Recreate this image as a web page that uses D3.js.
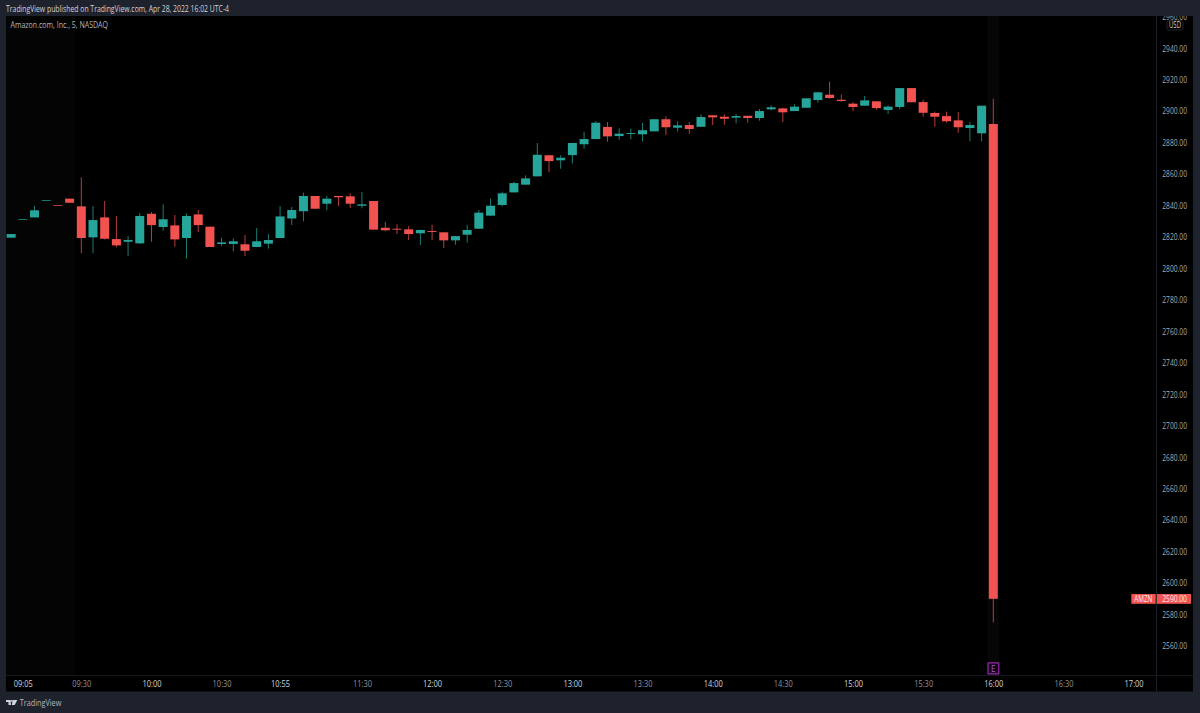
<!DOCTYPE html>
<html><head><meta charset="utf-8">
<script src="https://cdn.jsdelivr.net/npm/d3@7"></script>
<style>html,body{margin:0;padding:0;background:#1e222d;overflow:hidden}svg{display:block}text{font-family:"Open Sans","Noto Sans",sans-serif}</style>
</head><body><svg id="c" width="1200" height="713"></svg>
<script>
const opens=[2819.6,2831.2,2832.5,2843.3,2840.3,2844.4,2839.5,2819.8,2832.5,2818.7,2817,2816,2834.8,2826.4,2827.4,2819.4,2834.4,2826.6,2815.6,2815.6,2815.4,2813.7,2815.8,2819.4,2831.8,2836.4,2846.1,2841.2,2846.1,2845.9,2839.9,2842.9,2825.9,2825.3,2824.9,2822.4,2823.8,2823,2817.9,2821.5,2825.3,2833.6,2840.4,2848.4,2853.3,2858.6,2872,2868.8,2872.1,2879,2882.3,2890,2884.2,2885.5,2885.3,2887.2,2894.9,2889.5,2891.2,2890.1,2897.4,2896.5,2895.9,2897.1,2895.7,2901.2,2901.8,2900.1,2902.2,2907.1,2910.5,2907.3,2904.8,2903.5,2906.3,2900.8,2902.7,2914.7,2905.8,2898.9,2896.9,2894.2,2889.3,2885.95,2891.9];
const highs=[2821.9,2831.5,2839.9,2843.5,2840.3,2844.4,2858,2839.7,2842.9,2833.4,2820.6,2835.1,2835.9,2840.8,2834,2835.1,2837.2,2826.6,2819.6,2819.2,2821.3,2825.7,2821.9,2839.8,2839.1,2848.2,2846.1,2846.1,2846.1,2847.8,2848.6,2842.9,2829.7,2828.1,2827,2824.8,2827.8,2823,2820.6,2827.8,2837.2,2844.4,2848.8,2855.2,2859.2,2879.8,2872,2872,2879.8,2887,2893.8,2893.1,2889.1,2888.9,2892.5,2894.9,2896.8,2893.6,2893.1,2898,2897.4,2898,2898.2,2897.1,2901.4,2903.9,2902.2,2904.4,2908.2,2912.4,2918.8,2910.7,2905.7,2909.7,2906.3,2903.7,2914.7,2914.7,2907.3,2899.7,2899.7,2899.5,2893.3,2903.5,2907.9];
const lows=[2819.6,2831.2,2832.5,2843.3,2840.1,2841.8,2809.7,2809.7,2818.5,2813.5,2808.1,2815.6,2817,2824,2813.8,2806.2,2823.2,2813.7,2814.3,2810.9,2807.9,2813.5,2812.6,2819.4,2827.6,2830,2838,2837,2839.7,2838.6,2838.3,2824.7,2823.8,2821.9,2818.1,2814.9,2818.1,2813,2815.1,2816.4,2825.3,2833.6,2839.5,2848.4,2853.3,2858.6,2861.3,2863.4,2866.7,2876.2,2882.3,2880.6,2881.9,2882.1,2880.9,2887.2,2884.9,2887,2885.7,2890.1,2891.2,2891.4,2892.3,2892.7,2894,2900.6,2893.1,2900.1,2902.2,2905.4,2907.9,2906,2900.1,2903.5,2900.95,2898.2,2901.2,2905.7,2896.5,2890.1,2892.7,2886.3,2880.9,2880.9,2575];
const closes=[2821.9,2831.5,2837,2843.5,2840.1,2841.8,2819.4,2830.8,2818.9,2814.7,2818.1,2833.4,2827.6,2831.3,2818.5,2833.4,2827.6,2813.7,2816.6,2817.3,2811.3,2817.3,2818.1,2833.1,2837.2,2846.1,2838,2844.4,2845.3,2841.2,2840.8,2824.7,2824.3,2824.7,2821.9,2824.5,2823.2,2817.9,2820.6,2824.5,2835.5,2839.9,2847.8,2854.3,2857.3,2872.3,2868.3,2870.4,2879.8,2882.3,2892.7,2884,2885.7,2886.1,2887.9,2894.9,2889.8,2891,2888.7,2896.3,2896.1,2895.2,2896.9,2895.7,2900.1,2902.5,2899.3,2902.9,2908.2,2912,2908.4,2906.5,2902.7,2906.9,2902,2902.9,2914.7,2905.7,2899,2896.5,2893.6,2889.8,2891.2,2903.5,2590];
const priceTicks=[2560,2580,2600,2620,2640,2660,2680,2700,2720,2740,2760,2780,2800,2820,2840,2860,2880,2900,2920,2940,2960];
const timeTicks=["09:05","09:30","10:00","10:30","10:55","11:30","12:00","12:30","13:00","13:30","14:00","14:30","15:00","15:30","16:00","16:30","17:00"];
const majorTicks=["09:05","10:00","10:55","12:00","13:00","14:00","15:00","16:00","17:00"];
const heading="TradingView published on TradingView.com, Apr 28, 2022 16:02 UTC-4";
const symbolName="Amazon.com, Inc., 5, NASDAQ";
const lastPrice=2590, earningsTime="16:00";

const UP="#26a69a",DOWN="#f25350",BG="#1e222d",TXT="#a6a9b2";
const svg=d3.select("#c");
const L=6,T=16,R=1193,B=691.5,PX=1156.5,TY=675.5;
const toMin=s=>{const p=s.split(":");return +p[0]*60+ +p[1]};
const x=d3.scaleLinear().domain([toMin("09:30"),toMin("16:00")]).range([81.3,993.3]);
const y=d3.scaleLinear().domain([2560,2940]).range([646,48.3]);
const rows=opens.map((o,i)=>({m:540+i*5,o,h:highs[i],l:lows[i],c:closes[i]}));
// condense a text to a target pixel width
const fit=(sel,w)=>sel.attr("lengthAdjust","spacingAndGlyphs").attr("textLength",w);

svg.append("rect").attr("width",1200).attr("height",713).attr("fill",BG);
svg.append("rect").attr("x",L).attr("y",T).attr("width",R-L).attr("height",B-T).attr("fill","#000");
const defs=svg.append("defs");
defs.append("clipPath").attr("id","pa").append("rect").attr("x",L).attr("y",T).attr("width",PX-L).attr("height",TY-T);
defs.append("clipPath").attr("id","sa").append("rect").attr("x",PX).attr("y",T).attr("width",R-PX).attr("height",TY-T);

// session shading
svg.append("rect").attr("x",L).attr("y",T).attr("width",x(toMin("09:30"))-6-L).attr("height",TY-T).attr("fill","#040404");
svg.append("rect").attr("x",x(toMin("16:00"))-6).attr("y",T).attr("width",12).attr("height",TY-T).attr("fill","#060606");

const plot=svg.append("g").attr("clip-path","url(#pa)");
const g=plot.selectAll("g").data(rows).join("g");
g.append("line").attr("x1",d=>x(d.m)).attr("x2",d=>x(d.m)).attr("y1",d=>y(d.h)).attr("y2",d=>y(d.l))
 .attr("stroke",d=>d.c>=d.o?UP:DOWN).attr("stroke-width",1).attr("stroke-opacity",.75);
g.append("rect").attr("x",d=>x(d.m)-4.5).attr("width",9)
 .attr("y",d=>y(Math.max(d.o,d.c))).attr("height",d=>Math.max(.7,Math.abs(y(d.o)-y(d.c))))
 .attr("fill",d=>d.c>=d.o?UP:DOWN);

// separators
svg.append("line").attr("x1",L).attr("x2",R).attr("y1",TY).attr("y2",TY).attr("stroke","#16181f");
svg.append("line").attr("x1",PX).attr("x2",PX).attr("y1",T).attr("y2",B).attr("stroke","#1b1e27");

// price axis
const pa=svg.append("g").attr("clip-path","url(#sa)")
 .append("g").attr("transform",`translate(${PX},0)`)
 .call(d3.axisRight(y).tickValues(priceTicks).tickSize(0).tickPadding(5.8).tickFormat(d3.format(".2f")));
pa.select(".domain").remove();
pa.selectAll("text").attr("fill",TXT).attr("font-size",8.6).attr("font-family",'"Open Sans",sans-serif').call(fit,24.7);

// USD box
svg.append("rect").attr("x",1167).attr("y",20.5).attr("width",16).attr("height",9.5).attr("rx",2).attr("fill","#000").attr("stroke","#2a2e39").attr("stroke-width",.8);
svg.append("text").attr("x",1175).attr("y",28).attr("text-anchor","middle").attr("font-size",8.4).attr("fill","#d1d4dc").text("USD").call(fit,12);

// last price tags
svg.append("rect").attr("x",1131.3).attr("y",y(lastPrice)-4.8).attr("width",24.4).attr("height",9.8).attr("fill",DOWN);
svg.append("rect").attr("x",PX+.3).attr("y",y(lastPrice)-4.8).attr("width",34.2).attr("height",9.8).attr("fill",DOWN);
svg.append("text").attr("x",1143.3).attr("y",y(lastPrice)+3).attr("text-anchor","middle").attr("font-size",8.2).attr("fill","#ffe9e8").text("AMZN").call(fit,18);
svg.append("text").attr("x",1174.6).attr("y",y(lastPrice)+3).attr("text-anchor","middle").attr("font-size",8.6).attr("fill","#ffe9e8").text(d3.format(".2f")(lastPrice)).call(fit,24.7);

// time axis
const ta=svg.append("g").attr("transform",`translate(0,${TY})`)
 .call(d3.axisBottom(x).tickValues(timeTicks.map(toMin)).tickSize(0).tickPadding(5.6)
  .tickFormat(m=>timeTicks[timeTicks.map(toMin).indexOf(m)]));
ta.select(".domain").remove();
ta.selectAll("text").attr("font-size",8.6).attr("font-family",'"Open Sans",sans-serif')
 .attr("fill",(m,i)=>majorTicks.includes(timeTicks[i])?"#d1d4dc":"#8f929b").call(fit,19);

// earnings marker
const ex=x(toMin(earningsTime));
svg.append("rect").attr("x",ex-5.3).attr("y",662.8).attr("width",10.8).attr("height",11).attr("rx",.6).attr("fill","#10041a").attr("stroke","#9c27b0").attr("stroke-width",1.2);
svg.append("text").attr("x",ex+.1).attr("y",671.6).attr("text-anchor","middle").attr("font-size",8.4).attr("fill","#9c5cc0").text("E");

// headers
svg.append("text").attr("x",6).attr("y",11.5).attr("font-size",8.7).attr("fill","#d1d4dc").text(heading).call(fit,223);
svg.append("text").attr("x",10.5).attr("y",27.5).attr("font-size",8.6).attr("fill","#b2b5be").text(symbolName).call(fit,97.5);

// logo + footer
svg.append("path").attr("fill","#d1d4dc").attr("d","M6 700h4.8v5h-2.3v-2.9H6z M12.9 700h4.4l-2.6 5h-3z");
svg.append("circle").attr("cx",11.9).attr("cy",701).attr("r",.95).attr("fill","#d1d4dc");
svg.append("text").attr("x",19.7).attr("y",706).attr("font-size",9).attr("fill","#b2b5be").text("TradingView").call(fit,41.6);
</script></body></html>
